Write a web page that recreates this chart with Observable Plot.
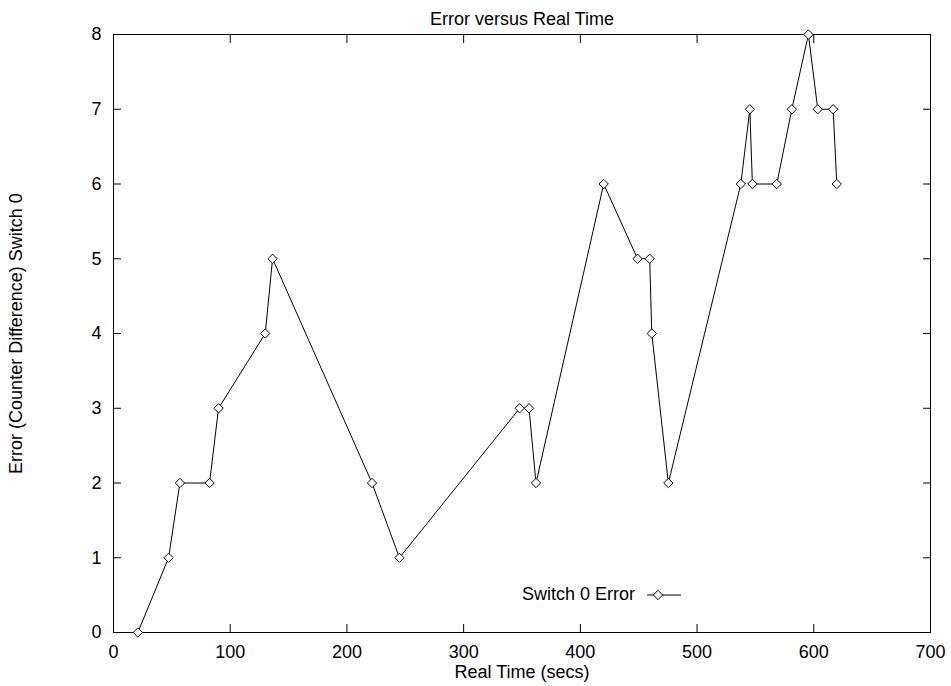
<!DOCTYPE html>
<html>
<head>
<meta charset="utf-8">
<script src="https://cdn.jsdelivr.net/npm/d3@7"></script>
<script src="https://cdn.jsdelivr.net/npm/@observablehq/plot@0.6"></script>
<style>
  html, body { margin: 0; padding: 0; background: white; }
  #wrap { position: relative; width: 951px; height: 686px; font-family: "Liberation Sans", Arial, Helvetica, sans-serif; }
  #legend { position: absolute; left: 522px; top: 584px; display: flex; align-items: center; font-size: 18px; line-height: 21px; color: black; }
  #legend svg { margin-left: 12px; }
</style>
</head>
<body>
<div id="wrap">
  <div id="chart"></div>
  <div id="legend"></div>
</div>
<script>
const title = "Error versus Real Time";
const xLabel = "Real Time (secs)";
const yLabel = "Error (Counter Difference) Switch 0";
const seriesName = "Switch 0 Error";

const realTime = [20.9, 47.2, 56.9, 82.3, 90, 130, 136.3, 221.5, 245, 348, 356, 362, 420, 449, 459.4, 461.2, 475.4, 537.5, 545.2, 547.4, 568.3, 581.2, 595.4, 603.4, 616.6, 619.7];
const errorValues = [0, 1, 2, 2, 3, 4, 5, 2, 1, 3, 3, 2, 6, 5, 5, 4, 2, 6, 7, 6, 6, 7, 8, 7, 7, 6];

const xTicks = [0, 100, 200, 300, 400, 500, 600, 700];
const yTicks = [0, 1, 2, 3, 4, 5, 6, 7, 8];

const data = realTime.map((t, i) => ({t, e: errorValues[i]}));

const chart = Plot.plot({
  width: 951,
  height: 686,
  marginLeft: 113,
  marginRight: 21,
  marginTop: 34,
  marginBottom: 54,
  style: {fontSize: "18px", fontFamily: "'Liberation Sans', Arial, Helvetica, sans-serif", color: "black", background: "white"},
  x: {domain: [0, 700]},
  y: {domain: [0, 8]},
  marks: [
    Plot.axisX(xTicks, {anchor: "bottom", tickSize: -8, tickPadding: 21, tickFormat: d => String(d), label: null}),
    Plot.axisX(xTicks, {anchor: "top", tickSize: -8, tickFormat: () => "", label: null}),
    Plot.axisY(yTicks, {anchor: "left", tickSize: -8, tickPadding: 20, tickFormat: d => String(d), label: null}),
    Plot.axisY(yTicks, {anchor: "right", tickSize: -8, tickFormat: () => "", label: null}),
    Plot.frame({stroke: "black", strokeWidth: 1}),
    Plot.text([title], {frameAnchor: "top", lineAnchor: "bottom", dy: -10, fill: "black"}),
    Plot.text([xLabel], {frameAnchor: "bottom", lineAnchor: "bottom", dy: 45, fill: "black"}),
    Plot.text([yLabel], {frameAnchor: "left", rotate: -90, textAnchor: "middle", lineAnchor: "bottom", dx: -92, fill: "black"}),
    Plot.line(data, {x: "t", y: "e", stroke: "black", strokeWidth: 1}),
    Plot.dot(data, {x: "t", y: "e", symbol: "diamond2", r: 4.2, stroke: "black", fill: "white", strokeWidth: 1})
  ]
});
document.getElementById("chart").appendChild(chart);

// legend
const legend = document.getElementById("legend");
const lbl = document.createElement("span");
lbl.textContent = seriesName;
legend.appendChild(lbl);
const ns = "http://www.w3.org/2000/svg";
const ls = document.createElementNS(ns, "svg");
ls.setAttribute("width", 36);
ls.setAttribute("height", 14);
const ln = document.createElementNS(ns, "line");
ln.setAttribute("x1", 0); ln.setAttribute("x2", 34); ln.setAttribute("y1", 7); ln.setAttribute("y2", 7);
ln.setAttribute("stroke", "black"); ln.setAttribute("stroke-width", 1);
ls.appendChild(ln);
const dm = document.createElementNS(ns, "path");
dm.setAttribute("d", d3.symbol(d3.symbolDiamond2, Math.PI * 4.2 * 4.2)());
dm.setAttribute("transform", "translate(11,7)");
dm.setAttribute("fill", "white"); dm.setAttribute("stroke", "black");
ls.appendChild(dm);
legend.appendChild(ls);
</script>
</body>
</html>
